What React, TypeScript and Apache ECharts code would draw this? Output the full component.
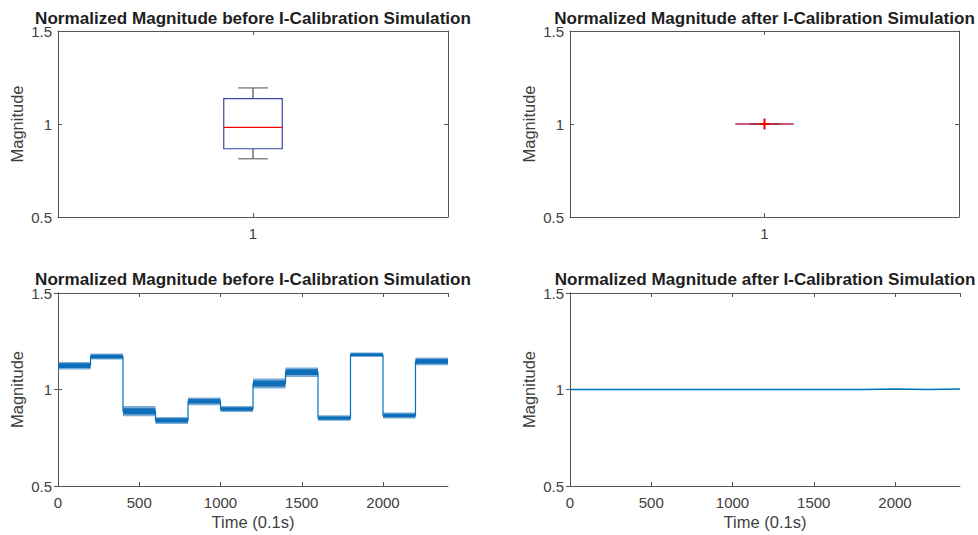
import React, { useEffect, useRef } from "react";
import * as echarts from "echarts";

// Box statistics: [lower whisker, Q1, median, Q3, upper whisker]
const boxCategories = ["1"];
const boxBefore = [0.813, 0.867, 0.982, 1.136, 1.194];
const boxAfter = [1.0, 1.0, 1.0, 1.0, 1.0];
const outliersAfter = [1.0];

// Time series: 12 steps of 200 samples each
const segEdges = [0, 200, 400, 600, 800, 1000, 1200, 1400, 1600, 1800, 2000, 2200, 2400];
const levelBefore = [1.124, 1.17, 0.887, 0.84, 0.939, 0.899, 1.031, 1.09, 0.852, 1.18, 0.866, 1.146];
const lowBefore = [1.104, 1.155, 0.862, 0.821, 0.919, 0.884, 1.005, 1.065, 0.838, 1.169, 0.85, 1.126];
const highBefore = [1.143, 1.186, 0.914, 0.858, 0.959, 0.914, 1.057, 1.114, 0.866, 1.192, 0.881, 1.166];
const levelAfter = [1.0, 1.0, 1.0, 1.0, 1.0, 1.0, 1.0, 1.0, 1.0, 1.002, 1.0, 1.002];

const yTicks = { min: 0.5, max: 1.5, interval: 0.5 };
const titleBefore = "Normalized Magnitude before I-Calibration Simulation";
const titleAfter = "Normalized Magnitude after I-Calibration Simulation";

const FONT = "Liberation Sans, Arial, Helvetica, sans-serif";
const AXIS_COLOR = "#555555";
const TEXT_COLOR = "#404040";
const LINE_BLUE = "#0072BD";

const grids = [
  { left: 58, top: 31, width: 390, height: 186 },
  { left: 570, top: 31, width: 389, height: 186 },
  { left: 58, top: 293, width: 390, height: 193 },
  { left: 570, top: 293, width: 390, height: 193 },
];

function stepPoints(levels: number[]) {
  const pts: number[][] = [];
  levels.forEach((lv, i) => {
    pts.push([segEdges[i], lv]);
    pts.push([segEdges[i + 1], lv]);
  });
  return pts;
}

function bandRows() {
  return levelBefore.map((lv, i) => [segEdges[i], segEdges[i + 1], lowBefore[i], highBefore[i], lv]);
}

function boxRenderItem(params: any, api: any) {
  const lo = api.value(1);
  const q1 = api.value(2);
  const med = api.value(3);
  const q3 = api.value(4);
  const hi = api.value(5);
  const band = api.size([1, 0])[0];
  const cx = api.coord([api.value(0), med])[0];
  const half = band * 0.075;
  const cap = band * 0.038;
  const yLo = api.coord([0, lo])[1];
  const yQ1 = api.coord([0, q1])[1];
  const yMed = api.coord([0, med])[1];
  const yQ3 = api.coord([0, q3])[1];
  const yHi = api.coord([0, hi])[1];
  const collapsed = Math.abs(q3 - q1) < 1e-9;
  const whisker = { stroke: "#4a4a4a", lineWidth: 1.2 };
  return {
    type: "group",
    children: [
      { type: "line", shape: { x1: cx, y1: yHi, x2: cx, y2: yQ3 }, style: whisker },
      { type: "line", shape: { x1: cx, y1: yQ1, x2: cx, y2: yLo }, style: whisker },
      { type: "line", shape: { x1: cx - cap, y1: yHi, x2: cx + cap, y2: yHi }, style: { stroke: "#6a6a6a", lineWidth: 1.2 } },
      { type: "line", shape: { x1: cx - cap, y1: yLo, x2: cx + cap, y2: yLo }, style: { stroke: "#6a6a6a", lineWidth: 1.2 } },
      {
        type: "rect",
        shape: { x: cx - half, y: yQ3, width: half * 2, height: yQ1 - yQ3 },
        style: { fill: "none", stroke: "#3447a6", lineWidth: 1.2 },
      },
      {
        type: "line",
        shape: { x1: cx - half, y1: yMed, x2: cx + half, y2: yMed },
        style: { stroke: "#ff0000", lineWidth: collapsed ? 1.6 : 1.1, opacity: collapsed ? 0.6 : 1 },
      },
    ],
  };
}

function plusRenderItem(params: any, api: any) {
  const p = api.coord([api.value(0), api.value(1)]);
  const r = 5;
  const st = { stroke: "#ee0000", lineWidth: 2 };
  return {
    type: "group",
    children: [
      { type: "line", shape: { x1: p[0] - r, y1: p[1], x2: p[0] + r, y2: p[1] }, style: st },
      { type: "line", shape: { x1: p[0], y1: p[1] - r - 0.5, x2: p[0], y2: p[1] + r + 0.5 }, style: st },
    ],
  };
}

function bandRenderItem(params: any, api: any) {
  const x0 = api.value(0);
  const x1 = api.value(1);
  const lo = api.value(2);
  const hi = api.value(3);
  const lv = api.value(4);
  const a = api.coord([x0, hi]);
  const b = api.coord([x1, lo]);
  const innerHi = lv + (hi - lv) * 0.6;
  const innerLo = lv - (lv - lo) * 0.6;
  const c = api.coord([x0, innerHi]);
  const d = api.coord([x1, innerLo]);
  return {
    type: "group",
    children: [
      { type: "rect", shape: { x: a[0], y: a[1], width: b[0] - a[0], height: b[1] - a[1] }, style: { fill: "#1f74bb", opacity: 0.6 } },
      { type: "rect", shape: { x: c[0], y: c[1], width: d[0] - c[0], height: d[1] - c[1] }, style: { fill: "#146cb6" } },
    ],
  };
}

export default function App() {
  const ref = useRef<HTMLDivElement>(null);

  useEffect(() => {
    if (!ref.current) return;
    const chart = echarts.init(ref.current, null, { renderer: "svg" });

    const tickLabel = { color: TEXT_COLOR, fontFamily: FONT, fontSize: 15 };
    const axisLine = { show: true, lineStyle: { color: AXIS_COLOR, width: 1 } };
    const tick = { show: true, inside: true, length: 4, lineStyle: { color: AXIS_COLOR } };
    const nameStyle = { color: TEXT_COLOR, fontFamily: FONT, fontSize: 16.5 };

    const xAxis: any[] = [];
    const yAxis: any[] = [];
    grids.forEach((_, g) => {
      const isBox = g < 2;
      const base: any = isBox
        ? { type: "category", data: boxCategories, boundaryGap: true }
        : { type: "value", min: 0, max: 2400, interval: 500 };
      xAxis.push({
        ...base,
        gridIndex: g,
        position: "bottom",
        axisLine,
        axisTick: { ...tick, alignWithLabel: true },
        axisLabel: isBox
          ? { ...tickLabel, margin: 9 }
          : { ...tickLabel, margin: 9, showMaxLabel: false, formatter: (v: number) => String(v) },
        splitLine: { show: false },
        name: isBox ? "" : "Time (0.1s)",
        nameLocation: "middle",
        nameGap: 27,
        nameTextStyle: nameStyle,
      });
      xAxis.push({
        ...base,
        gridIndex: g,
        position: "top",
        axisLine,
        axisTick: { ...tick, alignWithLabel: true },
        axisLabel: { show: false },
        splitLine: { show: false },
      });
      yAxis.push({
        type: "value",
        ...yTicks,
        gridIndex: g,
        position: "left",
        axisLine,
        axisTick: tick,
        axisLabel: { ...tickLabel, margin: 6 },
        splitLine: { show: false },
        name: "Magnitude",
        nameLocation: "middle",
        nameRotate: 90,
        nameGap: 33,
        nameTextStyle: nameStyle,
      });
      yAxis.push({
        type: "value",
        ...yTicks,
        gridIndex: g,
        position: "right",
        axisLine,
        axisTick: tick,
        axisLabel: { show: false },
        splitLine: { show: false },
      });
    });

    const titleText = (text: string, g: number, y: number) => ({
      type: "text",
      x: grids[g].left + grids[g].width / 2,
      y,
      style: {
        text,
        fill: "#1e1e1e",
        font: `bold 17.1px ${FONT}`,
        align: "center",
        verticalAlign: "middle",
      },
    });

    chart.setOption({
      animation: false,
      backgroundColor: "#ffffff",
      grid: grids.map((g) => ({ ...g, containLabel: false })),
      xAxis,
      yAxis,
      graphic: [
        titleText(titleBefore, 0, 18),
        titleText(titleAfter, 1, 18),
        titleText(titleBefore, 2, 279.5),
        titleText(titleAfter, 3, 279.5),
      ],
      series: [
        {
          type: "custom",
          xAxisIndex: 0,
          yAxisIndex: 0,
          renderItem: boxRenderItem,
          data: [[0, ...boxBefore]],
        },
        {
          type: "custom",
          xAxisIndex: 2,
          yAxisIndex: 2,
          renderItem: boxRenderItem,
          data: [[0, ...boxAfter]],
        },
        {
          type: "custom",
          xAxisIndex: 2,
          yAxisIndex: 2,
          renderItem: plusRenderItem,
          data: outliersAfter.map((v) => [0, v]),
          z: 5,
        },
        {
          type: "custom",
          xAxisIndex: 4,
          yAxisIndex: 4,
          renderItem: bandRenderItem,
          data: bandRows(),
        },
        {
          type: "line",
          xAxisIndex: 4,
          yAxisIndex: 4,
          data: stepPoints(levelBefore),
          showSymbol: false,
          lineStyle: { color: LINE_BLUE, width: 1.2 },
        },
        {
          type: "line",
          xAxisIndex: 6,
          yAxisIndex: 6,
          data: stepPoints(levelAfter),
          showSymbol: false,
          lineStyle: { color: LINE_BLUE, width: 1.5 },
        },
      ],
    });

    return () => chart.dispose();
  }, []);

  return (
    <div
      ref={ref}
      style={{ position: "fixed", left: 0, top: 0, width: 978, height: 535, background: "#fff" }}
    />
  );
}
